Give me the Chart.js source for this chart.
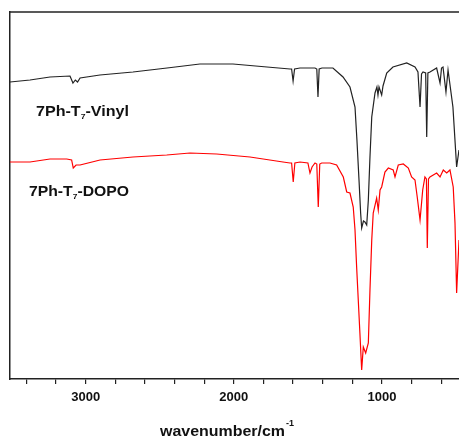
<!DOCTYPE html>
<html>
<head>
    <title>FTIR spectra</title>
    <script src="https://cdn.jsdelivr.net/npm/chart.js"></script>
    <style>
        body { margin: 0; background: #fff; }
    </style>
</head>
<body>
    <canvas id="irChart" width="459" height="439"></canvas>

    <script>
        // Spectra (wavenumber in cm-1, transmittance in arbitrary units)
        const vinylWn = [3511, 3376, 3241, 3106, 3086, 3070, 3055, 3038, 2904, 2681, 2451, 2229, 2006, 1776, 1621, 1610, 1600, 1590, 1553, 1452, 1440, 1432, 1424, 1405, 1331, 1263, 1216, 1182, 1169, 1155, 1144, 1137, 1125, 1115, 1103, 1092, 1081, 1069, 1047, 1034, 1027, 1020, 1014, 1002, 993, 968, 926, 833, 777, 757, 743, 733, 723, 705, 698, 690, 676, 631, 608, 598, 588, 568, 554, 521, 496, 480];
        const vinylT = [297, 299, 302, 303, 296, 299, 297, 301, 304, 307, 311, 315, 315, 312, 310, 310, 298, 310, 311, 311, 310, 282, 310, 311, 311, 302, 292, 272, 239, 199, 166, 151, 158, 157, 154, 179, 222, 262, 286, 292, 284, 292, 292, 284, 293, 306, 312, 316, 312, 307, 272, 305, 307, 306, 242, 306, 307, 311, 296, 311, 312, 287, 309, 272, 212, 229];

        const dopoWn = [3511, 3376, 3241, 3128, 3095, 3084, 3065, 3038, 2903, 2681, 2453, 2296, 2116, 1891, 1668, 1621, 1610, 1599, 1588, 1553, 1500, 1486, 1472, 1452, 1440, 1430, 1420, 1407, 1351, 1306, 1261, 1238, 1216, 1194, 1182, 1171, 1160, 1149, 1137, 1126, 1110, 1092, 1081, 1069, 1059, 1036, 1025, 1013, 1002, 980, 957, 924, 912, 890, 856, 822, 800, 777, 762, 743, 725, 710, 700, 694, 686, 676, 631, 608, 586, 563, 541, 519, 507, 496, 480];
        const dopoT = [217, 217, 220, 220, 219, 211, 214, 214, 219, 222, 224, 226, 225, 222, 217, 216, 216, 197, 216, 217, 216, 206, 212, 216, 215, 172, 215, 216, 216, 214, 202, 187, 186, 172, 149, 112, 79, 46, 9, 32, 26, 36, 89, 139, 166, 181, 169, 189, 192, 207, 211, 209, 202, 214, 215, 211, 202, 199, 182, 159, 189, 202, 200, 131, 200, 202, 206, 202, 209, 206, 209, 192, 156, 86, 139];

        const tickValues = [600, 800, 1000, 1200, 1400, 1600, 1800, 2000, 2200, 2400, 2600, 2800, 3000, 3200, 3400];
        const labeledTicks = [1000, 2000, 3000];

        const FONT = "'Liberation Sans', Arial, sans-serif";

        function toPoints(wn, t) {
            return wn.map((x, i) => ({ x: x, y: t[i] }));
        }

        // the original figure is a bit stretched sideways, so text is fitted to a width
        function stretchedText(ctx, parts, x, y, width) {
            let natural = 0;
            parts.forEach(p => { ctx.font = p.font; natural += ctx.measureText(p.text).width; });
            const sx = width / natural;
            ctx.save();
            ctx.translate(x, y);
            ctx.scale(sx, 1);
            let cx = 0;
            parts.forEach(p => {
                ctx.font = p.font;
                ctx.fillText(p.text, cx, p.dy || 0);
                cx += ctx.measureText(p.text).width;
            });
            ctx.restore();
        }

        // Top frame line, curve names and the axis title
        const decorations = {
            id: 'decorations',
            afterDraw(chart) {
                const ctx = chart.ctx;
                const area = chart.chartArea;
                ctx.save();
                ctx.strokeStyle = '#222';
                ctx.lineWidth = 1.5;
                ctx.beginPath();
                ctx.moveTo(area.left, area.top);
                ctx.lineTo(area.right, area.top);
                ctx.stroke();

                ctx.fillStyle = '#111';
                ctx.textBaseline = 'alphabetic';
                ctx.textAlign = 'left';

                const big = 'bold 15px ' + FONT;
                const sub = 'bold 8px ' + FONT;
                stretchedText(ctx, [
                    { text: '7Ph-T', font: big },
                    { text: '7', font: sub, dy: 3 },
                    { text: '-Vinyl', font: big }
                ], 36, 116, 93);
                stretchedText(ctx, [
                    { text: '7Ph-T', font: big },
                    { text: '7', font: sub, dy: 3 },
                    { text: '-DOPO', font: big }
                ], 29, 196, 100);

                stretchedText(ctx, [
                    { text: 'wavenumber/cm', font: 'bold 15px ' + FONT }
                ], 160, 436, 125);
                ctx.font = 'bold 9px ' + FONT;
                ctx.fillText('-1', 286, 426);
                ctx.restore();
            }
        };

        const ctx = document.getElementById('irChart').getContext('2d');

        new Chart(ctx, {
            type: 'line',
            data: {
                datasets: [{
                    label: '7Ph-T7-Vinyl',
                    data: toPoints(vinylWn, vinylT),
                    borderColor: '#222',
                    borderWidth: 1.2,
                    pointRadius: 0,
                    tension: 0
                }, {
                    label: '7Ph-T7-DOPO',
                    data: toPoints(dopoWn, dopoT),
                    borderColor: '#ff0000',
                    borderWidth: 1.2,
                    pointRadius: 0,
                    tension: 0
                }]
            },
            options: {
                responsive: false,
                animation: false,
                layout: { padding: { top: 12, right: 0, left: 0, bottom: 0 } },
                plugins: {
                    legend: { display: false },
                    tooltip: { enabled: false }
                },
                scales: {
                    x: {
                        type: 'linear',
                        reverse: true,
                        min: 480,
                        max: 3511,
                        afterBuildTicks: scale => {
                            scale.ticks = tickValues.map(v => ({ value: v }));
                        },
                        afterFit: scale => { scale.height = 60; },
                        border: { display: true, color: '#222', width: 1.5 },
                        grid: {
                            display: true,
                            drawOnChartArea: false,
                            drawTicks: true,
                            tickLength: 5,
                            color: '#222',
                            lineWidth: 1.2
                        },
                        ticks: {
                            autoSkip: false,
                            maxRotation: 0,
                            padding: 6,
                            color: '#111',
                            font: { family: FONT, size: 13, weight: 'bold' },
                            callback: v => labeledTicks.includes(v) ? String(v) : ''
                        }
                    },
                    y: {
                        min: 0,
                        max: 367,
                        afterFit: scale => { scale.width = 10; },
                        border: { display: true, color: '#222', width: 1.5 },
                        grid: { display: false },
                        ticks: { display: false }
                    }
                }
            },
            plugins: [decorations]
        });
    </script>
</body>
</html>
